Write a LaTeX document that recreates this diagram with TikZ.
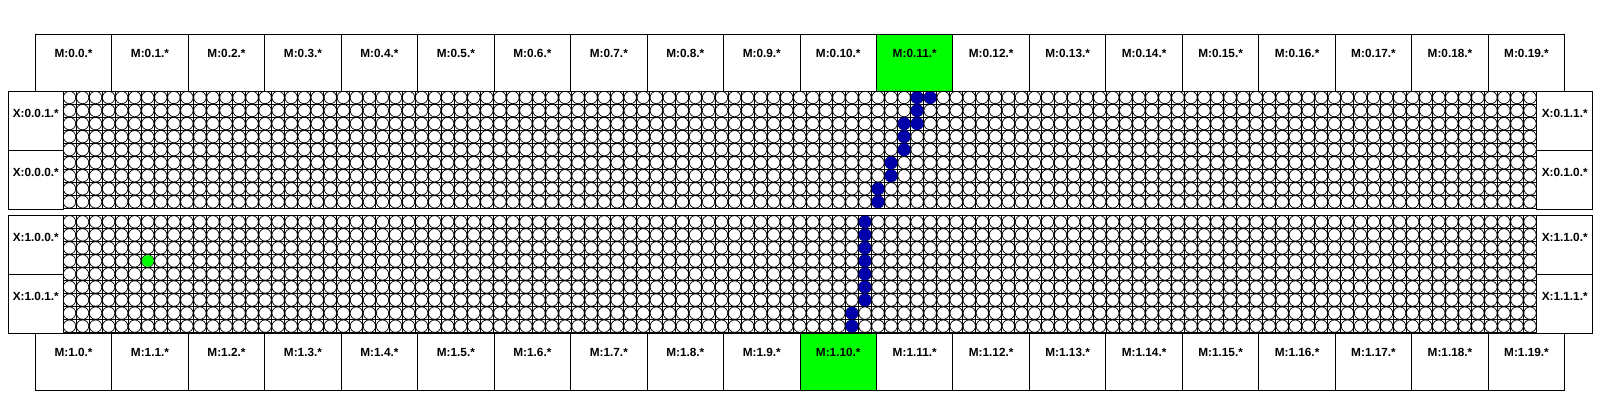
\documentclass[tikz,border=0pt]{standalone}
\usepackage{fontspec}
\setmainfont{Liberation Sans}
\definecolor{pathblue}{RGB}{0,0,170}
\definecolor{hotgreen}{RGB}{0,255,0}
\tikzset{
  bx/.style={draw=black,line width=1pt,inner sep=0pt,outer sep=0pt,anchor=north west,font=\fontsize{11.8}{12}\selectfont\bfseries,align=center},
  mbox/.style={bx,minimum width=76.47pt,text height=22.7pt,text depth=34.3pt},
  xbox/.style={bx,minimum width=55pt,text height=26.5pt,text depth=32.5pt},
  cell/.style={draw=black,line width=1pt},
  pad/.style={draw=black,line width=0.7pt,fill=white},
  busy/.style={fill=pathblue,draw=none},
  src/.style={fill=hotgreen,draw=none}
}
\newcommand{\gridblock}[1]{%
  \foreach \c in {0,...,112}{\foreach \r in {0,...,8}{
    \draw[pad] (69.52+\c*13.04,#1+6.52+\r*13.04) circle (6.2pt);
  }}
  \foreach \c in {0,...,113}{\draw[cell] (63+\c*13.04,#1) -- (63+\c*13.04,#1+117.4);}
  \foreach \r in {0,...,9}{\draw[cell] (63,#1+\r*13.04) -- (1536.7,#1+\r*13.04);}
}
\newcommand{\busydot}[3]{\fill[busy] (69.52+#2*13.04,#1+6.52+#3*13.04) circle (6.4pt);}
\begin{document}
\begin{tikzpicture}[x=1pt,y=-1pt]
\useasboundingbox (0,0) rectangle (1600,400);
\fill[white] (0,0) rectangle (1600,400);
\gridblock{91}
\gridblock{215.3}
\foreach \c/\r in {65/0,66/0,65/1,64/2,65/2,64/3,64/4,63/5,63/6,62/7,62/8}{\busydot{91}{\c}{\r}}
\foreach \c/\r in {61/0,61/1,61/2,61/3,61/4,61/5,61/6,60/7,60/8}{\busydot{215.3}{\c}{\r}}
\fill[src] (69.52+6*13.04,215.3+6.52+3*13.04) circle (5.8pt);
\foreach \i in {0,...,19}{
  \ifnum\i=11 \def\tf{hotgreen}\else \def\tf{white}\fi
  \node[mbox,fill=\tf] (mt\i) at (35.3+\i*76.47,34.3) {M:0.\i.*};
  \ifnum\i=10 \def\bf{hotgreen}\else \def\bf{white}\fi
  \node[mbox,fill=\bf] (mb\i) at (35.3+\i*76.47,333.3) {M:1.\i.*};
}
\node[xbox] (xa) at (8.3,91) {X:0.0.1.*};
\node[xbox] (xb) at (8.3,150) {X:0.0.0.*};
\node[xbox] (xc) at (8.3,215.3) {X:1.0.0.*};
\node[xbox] (xd) at (8.3,274.3) {X:1.0.1.*};
\node[xbox,minimum width=56pt] (ya) at (1536.7,91) {X:0.1.1.*};
\node[xbox,minimum width=56pt] (yb) at (1536.7,150) {X:0.1.0.*};
\node[xbox,minimum width=56pt] (yc) at (1536.7,215.3) {X:1.1.0.*};
\node[xbox,minimum width=56pt] (yd) at (1536.7,274.3) {X:1.1.1.*};
\end{tikzpicture}
\end{document}
